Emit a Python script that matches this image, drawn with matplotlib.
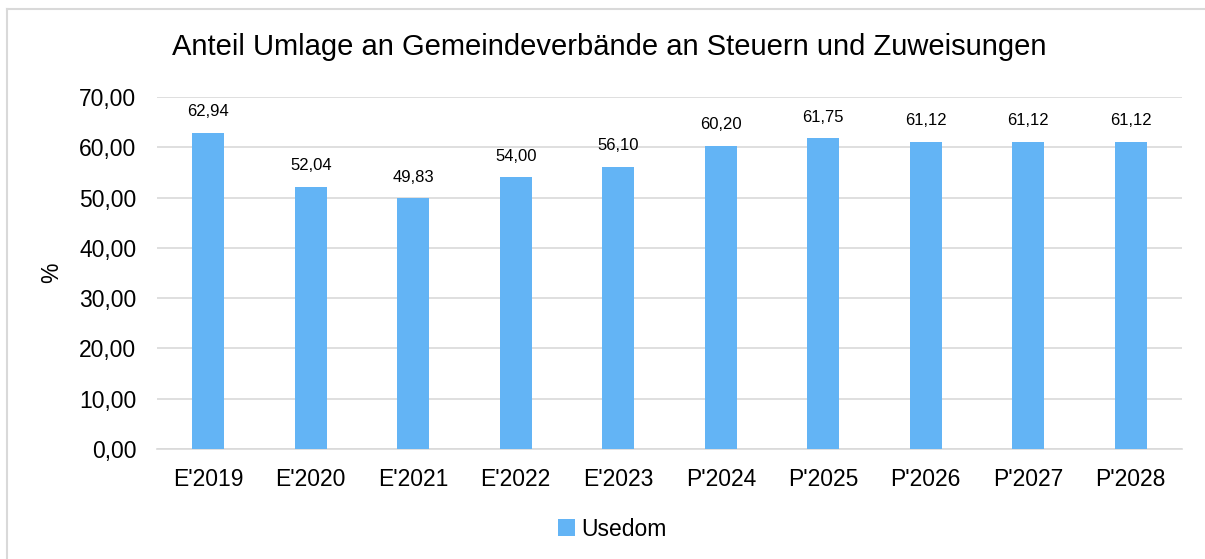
import matplotlib
matplotlib.use("Agg")
import matplotlib.pyplot as plt
from matplotlib.lines import Line2D

categories = ["E'2019", "E'2020", "E'2021", "E'2022", "E'2023",
              "P'2024", "P'2025", "P'2026", "P'2027", "P'2028"]
values = [62.94, 52.04, 49.83, 54.00, 56.10, 60.20, 61.75, 61.12, 61.12, 61.12]
series_name = "Usedom"
title = "Anteil Umlage an Gemeindeverbände an Steuern und Zuweisungen"
ylabel = "%"

plt.rcParams['font.family'] = ['Liberation Sans', 'DejaVu Sans']

W, H = 1205, 559
fig = plt.figure(figsize=(W / 100, H / 100), dpi=100)
# outer chart border (only left and top visible in the reference)
fig.lines.append(Line2D([7.5 / W, 7.5 / W], [0, 1 - 9 / H], transform=fig.transFigure,
                        color='#D9D9D9', linewidth=1.5))
fig.lines.append(Line2D([7.5 / W, 1], [1 - 9 / H, 1 - 9 / H], transform=fig.transFigure,
                        color='#D9D9D9', linewidth=1.5))

ax = fig.add_axes([157 / W, 1 - 449 / H, (1182 - 157) / W, (449 - 97) / H])

color = '#63B4F5'
x = list(range(len(categories)))
bars = ax.bar(x, values, width=0.31, color=color, label=series_name, zorder=3)
for xi, v in zip(x, values):
    ax.annotate(f"{v:.2f}".replace('.', ','), (xi, v), xytext=(0, 10),
                textcoords='offset points', ha='center', va='bottom', fontsize=12)

ax.set_ylim(0, 70)
ax.set_xlim(-0.5, len(categories) - 0.5)
ax.set_yticks(range(0, 71, 10))
ax.set_yticklabels([f"{t:.2f}".replace('.', ',') for t in range(0, 71, 10)], fontsize=16.5)
ax.set_xticks(x)
ax.set_xticklabels(categories, fontsize=16.5)
ax.tick_params(axis='y', length=0, pad=15)
ax.tick_params(axis='x', length=0, pad=14)
ax.grid(axis='y', color='#D9D9D9', linewidth=1.2, zorder=0)
for s in ['top', 'right', 'left']:
    ax.spines[s].set_visible(False)
ax.spines['bottom'].set_color('#D9D9D9')
ax.spines['bottom'].set_linewidth(1.2)
ax.set_ylabel(ylabel, fontsize=16.5)
ax.yaxis.set_label_coords(-0.092, 0.5)

fig.text(609 / W, 1 - 47 / H, title, ha='center', va='center', fontsize=21)
fig.legend(handles=[bars], labels=[series_name], loc='center',
           bbox_to_anchor=(612 / W, 1 - 529 / H), frameon=False, fontsize=16.5,
           handlelength=0.75, handleheight=0.75, handletextpad=0.25)

fig.savefig("out.png", dpi=100)
